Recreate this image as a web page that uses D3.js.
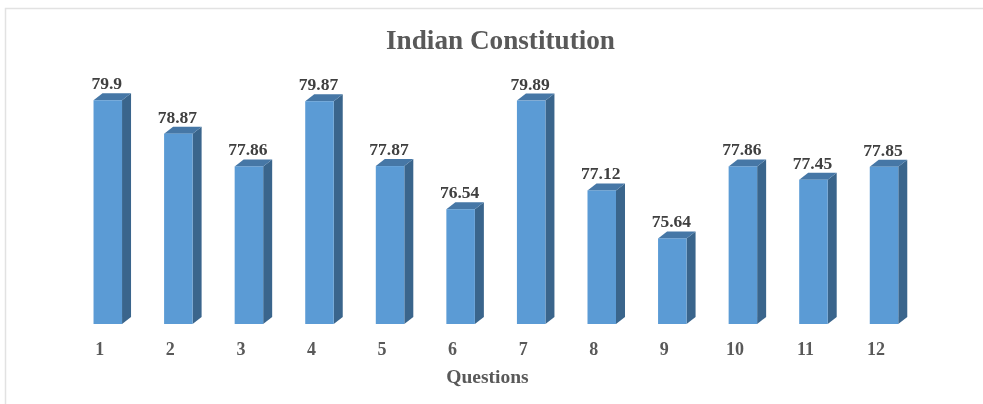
<!DOCTYPE html>
<html>
<head>
<meta charset="utf-8">
<script src="https://cdnjs.cloudflare.com/ajax/libs/d3/7.8.5/d3.min.js"></script>
<style>
  html, body { margin: 0; padding: 0; background: #fff; }
  svg { display: block; filter: blur(0.35px); }
  text { font-family: "Liberation Serif", serif; font-weight: bold; }
</style>
</head>
<body>
<script>
// values
var questions = ['1','2','3','4','5','6','7','8','9','10','11','12']
var scores = [79.9, 78.87, 77.86, 79.87, 77.87, 76.54, 79.89, 77.12, 75.64, 77.86, 77.45, 77.85]
var scoreLabels = ['79.9','78.87','77.86','79.87','77.87','76.54','79.89','77.12','75.64','77.86','77.45','77.85']

var width = 983, height = 404
var depthX = 9, depthY = 7   // fake 3d offset of the columns

var svg = d3.select('body').append('svg')
  .attr('width', width)
  .attr('height', height)

// chart frame, only top and left edges are in the crop
svg.append('path')
  .attr('d', 'M983,8.5 H5.5 V404')
  .attr('fill', 'none')
  .attr('stroke', '#e2e2e2')
  .attr('stroke-width', 1.5)

var xScale = d3.scaleBand()
  .domain(questions)
  .range([72.5, 919.3])
  .paddingInner(0.596)
  .paddingOuter(0.298)

var yScale = d3.scaleLinear().domain([73, 80]).range([324, 97])

var bars = svg.selectAll('.bar')
  .data(questions)
  .enter().append('g')
  .attr('class', 'bar')

// right side
bars.append('path')
  .attr('fill', '#3a658c')
  .attr('d', function(d, i) {
    var r = xScale(d) + xScale.bandwidth(), t = yScale(scores[i]), b = yScale.range()[0]
    return 'M' + r + ',' + t + 'l' + depthX + ',' + (-depthY) + 'V' + (b - depthY) + 'l' + (-depthX) + ',' + depthY + 'Z'
  })

// top side
bars.append('path')
  .attr('fill', '#4677a6')
  .attr('d', function(d, i) {
    var l = xScale(d), w = xScale.bandwidth(), t = yScale(scores[i])
    return 'M' + l + ',' + t + 'l' + depthX + ',' + (-depthY) + 'h' + w + 'l' + (-depthX) + ',' + depthY + 'Z'
  })

// front
bars.append('rect')
  .attr('fill', '#5b9bd5')
  .attr('x', function(d) { return xScale(d) })
  .attr('y', function(d, i) { return yScale(scores[i]) })
  .attr('width', xScale.bandwidth())
  .attr('height', function(d, i) { return yScale.range()[0] - yScale(scores[i]) })

// value labels
svg.selectAll('.value')
  .data(questions)
  .enter().append('text')
  .attr('class', 'value')
  .attr('x', function(d) { return xScale(d) + xScale.bandwidth() / 2 - 1 })
  .attr('y', function(d, i) { return yScale(scores[i]) - 11 })
  .attr('text-anchor', 'middle')
  .attr('font-size', 17.5)
  .attr('fill', '#404040')
  .text(function(d, i) { return scoreLabels[i] })

// x axis, labels sit left of the column centre
var xAxis = d3.axisBottom(xScale).tickSize(0).tickPadding(0)
var axisG = svg.append('g')
  .attr('transform', 'translate(-8,342)')
  .call(xAxis)
axisG.select('.domain').remove()
axisG.selectAll('text')
  .attr('font-size', 18)
  .attr('font-family', '"Liberation Serif", serif')
  .attr('fill', '#595959')

svg.append('text')
  .attr('x', 500.5)
  .attr('y', 49)
  .attr('text-anchor', 'middle')
  .attr('font-size', 27.2)
  .attr('fill', '#595959')
  .text('Indian Constitution')

svg.append('text')
  .attr('x', 487.5)
  .attr('y', 383)
  .attr('text-anchor', 'middle')
  .attr('font-size', 19.5)
  .attr('fill', '#595959')
  .text('Questions')
</script>
</body>
</html>
